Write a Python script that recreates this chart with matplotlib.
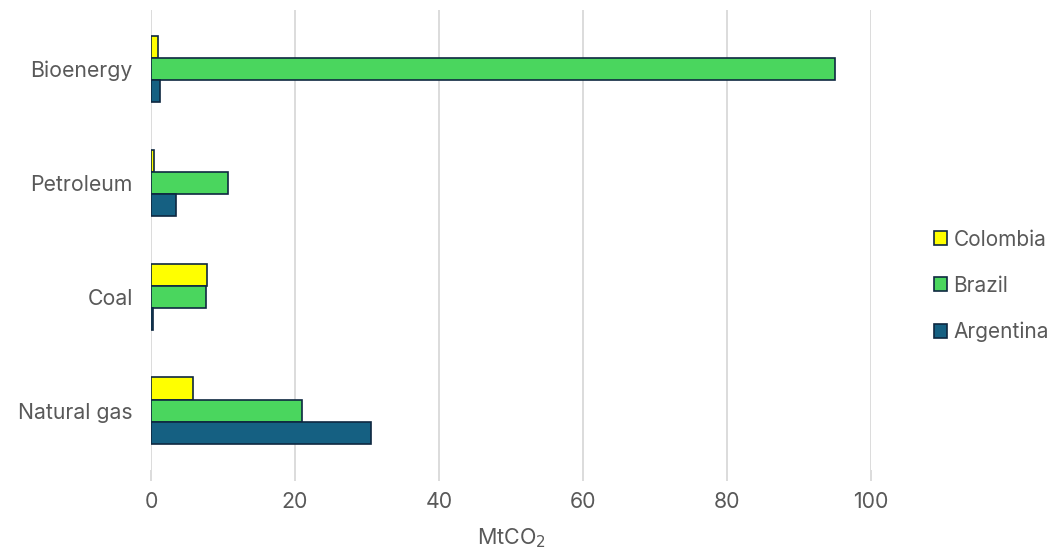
import matplotlib.pyplot as plt
import numpy as np

categories = ['Natural gas', 'Coal', 'Petroleum', 'Bioenergy']
colombia = [5.8, 7.8, 0.4, 1.0]
brazil = [21.0, 7.6, 10.7, 95.0]
argentina = [30.5, 0.3, 3.5, 1.3]

series = [('Colombia', colombia, '#FFFF00'),
          ('Brazil', brazil, '#4AD65E'),
          ('Argentina', argentina, '#156082')]

plt.rcParams['font.family'] = ['Inter', 'DejaVu Sans']

fig = plt.figure(figsize=(10.54, 5.5), dpi=100)
ax = fig.add_axes([0.1433, 0.1455, 0.6831, 0.8365])

y = np.arange(len(categories))
h = 0.195
for i, (name, vals, color) in enumerate(series):
    ax.barh(y + (1 - i) * h, vals, height=h, color=color,
            edgecolor='#0E2841', linewidth=1.2, label=name, zorder=3)

ax.set_xlim(0, 100)
ax.set_ylim(-0.52, 3.52)
ax.set_xticks(np.arange(0, 101, 20))
ax.set_yticks(y)
ax.set_yticklabels(categories)
ax.grid(axis='x', color='#D9D9D9', linewidth=1.3, zorder=0)
for s in ax.spines.values():
    s.set_visible(False)
ax.tick_params(axis='y', length=0, pad=13, labelsize=15.3, labelcolor='#595959')
ax.tick_params(axis='x', length=8, width=1.3, color='#D9D9D9', pad=8,
               labelsize=15.3, labelcolor='#595959')
ax.set_xlabel('MtCO$_2$', fontsize=15.5, color='#595959', labelpad=10)

leg = fig.legend(loc='center left', bbox_to_anchor=(0.876, 0.480), frameon=False,
                 fontsize=15, labelspacing=1.25, handlelength=0.65,
                 handleheight=0.65, handletextpad=0.3, borderpad=0)
for t in leg.get_texts():
    t.set_color('#595959')

fig.savefig('out.png', dpi=100)
